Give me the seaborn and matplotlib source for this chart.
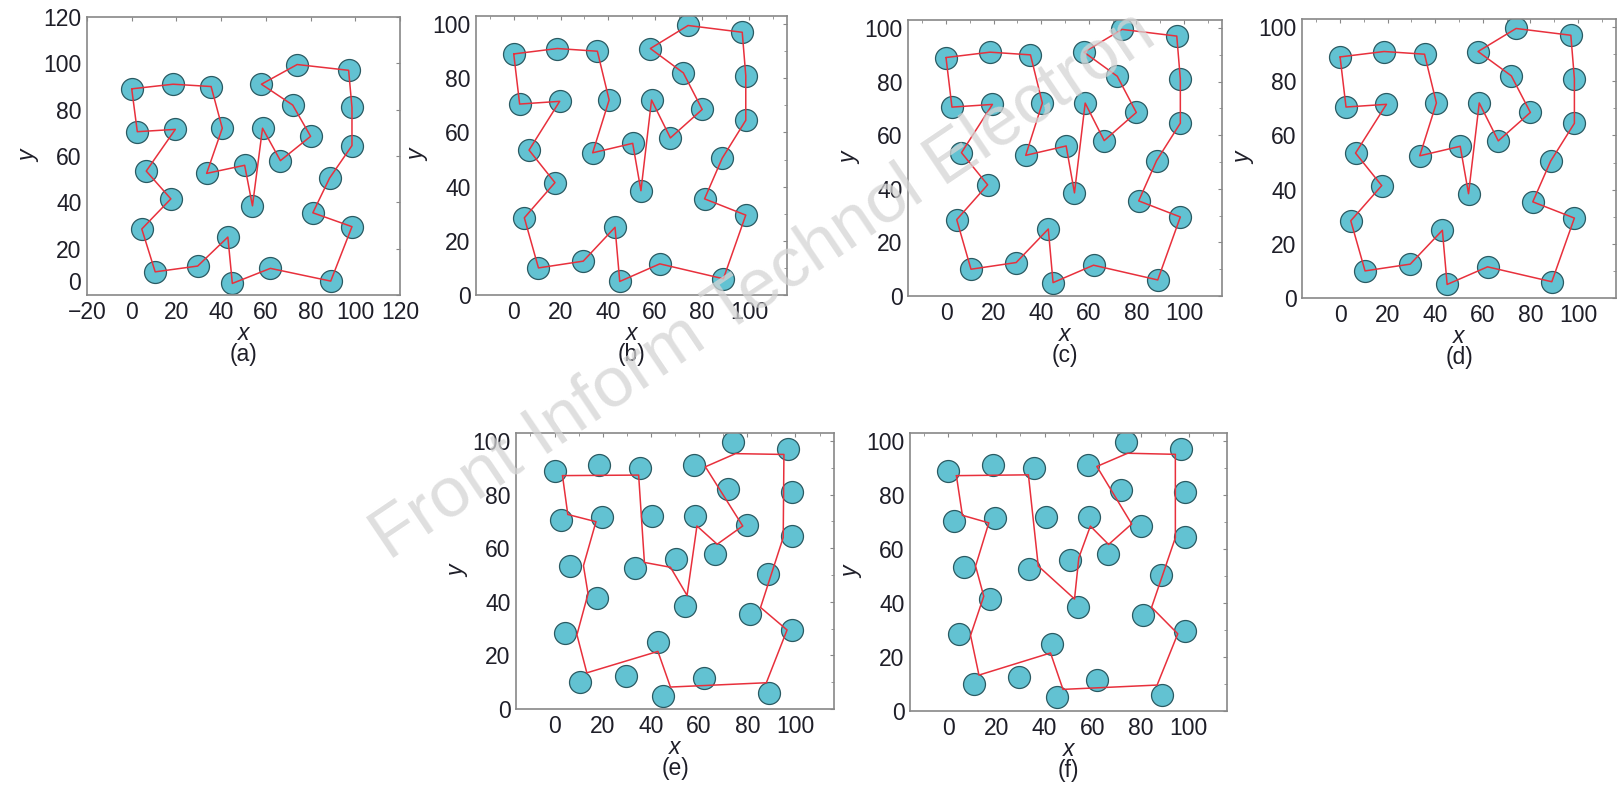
import numpy as np
import pandas as pd
import seaborn as sns
import matplotlib.pyplot as plt
from matplotlib.ticker import MultipleLocator, FixedFormatter

# ── City coordinates ─────────────────────────────────────────────────
CITY_X = [0, 18.5, 35.5, 2.5, 19.5, 40.5, 6.5, 17.5, 33.5, 50.5,
          54, 58.5, 58, 74, 97, 72, 98.5, 80, 66.5, 98.5,
          88.5, 81, 98.5, 4.5, 10.5, 29.5, 43, 45, 62, 89]
CITY_Y = [89, 91, 90, 70.5, 71.5, 72, 53.5, 41.5, 52.5, 56,
          38.5, 72, 91, 99.5, 97, 82, 81, 68.5, 58, 64.5,
          50.5, 35.5, 29.5, 28.5, 10, 12.5, 25, 5, 11.5, 6]

# tour found in panels (a)-(d), 1-based city numbers
TOUR_ABCD = [1, 2, 3, 6, 9, 10, 11, 12, 19, 18, 16, 13, 14, 15, 17, 20,
             21, 22, 23, 30, 29, 28, 27, 26, 25, 24, 8, 7, 5, 4, 1]

# route vertices of panels (e) and (f)
ROUTE_E_X = [3.3, 34.9, 37.3, 48.1, 55, 59.1, 67.5, 78.1, 62.6, 75.1, 95.2, 94.9,
             85.5, 96.5, 87.9, 48.1, 42.9, 13.4, 9.3, 13.9, 12.0, 17.2, 5.5, 3.3]
ROUTE_E_Y = [87.1, 87.3, 54.7, 52.9, 42.4, 68.3, 61.5, 68.3, 90.4, 95.3, 95, 64,
             37.9, 29.5, 9.8, 8.2, 21.5, 13.5, 27.7, 43, 53.5, 69.9, 72.6, 87.1]
ROUTE_F_X = [3.3, 33.3, 37.4, 52.5, 54.3, 59.1, 66.7, 76.3, 61.8, 74.6, 94.5, 94.5,
             84.6, 95.5, 86.9, 47.7, 42.5, 12.7, 9.2, 14.7, 11.3, 16.8, 5.8, 3.3]
ROUTE_F_Y = [87.2, 87.5, 53.7, 41.5, 56.8, 68.5, 61.7, 69.3, 90.6, 95.5, 95.1, 64.2,
             38.4, 28.6, 9.6, 8.0, 21.5, 13.3, 28.0, 42.5, 53.7, 69.7, 72.5, 87.2]

PANEL_LABELS = ['(a)', '(b)', '(c)', '(d)', '(e)', '(f)']

# axes boxes in figure fractions [left, bottom, width, height]
PANEL_BOXES = [
    [0.0538, 0.6242, 0.1936, 0.3541],
    [0.2944, 0.6242, 0.1923, 0.3554],
    [0.5615, 0.6229, 0.1942, 0.3516],
    [0.8052, 0.6204, 0.1942, 0.3554],
    [0.3191, 0.0968, 0.1967, 0.3516],
    [0.5628, 0.0943, 0.1960, 0.3541],
]

CIRCLE = '#62c2d2'
EDGE = '#2a5a62'
RED = '#e8303c'
FRAME = '#888888'
TXT = '#1e1e28'
FS = 16.5

sns.set_style('white')
plt.rcParams['font.family'] = ['Liberation Sans', 'DejaVu Sans']
plt.rcParams['font.size'] = FS

cities = pd.DataFrame({'x': CITY_X, 'y': CITY_Y})
tour = cities.iloc[[i - 1 for i in TOUR_ABCD]].reset_index(drop=True)
routes = [tour, tour, tour, tour,
          pd.DataFrame({'x': ROUTE_E_X, 'y': ROUTE_E_Y}),
          pd.DataFrame({'x': ROUTE_F_X, 'y': ROUTE_F_Y})]

fig = plt.figure(figsize=(16.17, 7.85), dpi=100)

for i, (box, route, lab) in enumerate(zip(PANEL_BOXES, routes, PANEL_LABELS)):
    ax = fig.add_axes(box)
    sns.scatterplot(data=cities, x='x', y='y', ax=ax, s=250, color=CIRCLE,
                    edgecolor=EDGE, linewidth=0.9, zorder=2, legend=False)
    sns.lineplot(data=route, x='x', y='y', ax=ax, sort=False, estimator=None,
                 color=RED, lw=1.1, zorder=3)

    if i == 0:
        ax.set_xlim(-20, 120)
        ax.set_ylim(0, 120)
        yt = [0, 20, 40, 60, 80, 100, 120]
        ax.set_xticks([-20, 0, 20, 40, 60, 80, 100, 120])
        ax.set_yticks(yt)
        # the "0" on the y axis sits a little above its tick in the original
        ax.yaxis.set_major_formatter(FixedFormatter([''] + [str(v) for v in yt[1:]]))
        ax.annotate('0', xy=(0, 0), xycoords='axes fraction', xytext=(-6, 12),
                    textcoords='offset pixels', ha='right', va='center',
                    fontsize=FS, color=TXT)
    else:
        ax.set_xlim(-16, 116)
        ax.set_ylim(0, 103)
        ax.set_xticks([0, 20, 40, 60, 80, 100])
        ax.set_yticks([0, 20, 40, 60, 80, 100])
        ax.xaxis.set_minor_locator(MultipleLocator(10))
        ax.yaxis.set_minor_locator(MultipleLocator(10))

    ax.tick_params(which='both', direction='in', top=True, right=True,
                   color=FRAME, labelcolor=TXT, labelsize=FS, pad=4)
    ax.tick_params(which='major', length=3)
    ax.tick_params(which='minor', length=2)
    for sp in ax.spines.values():
        sp.set_color(FRAME)
        sp.set_linewidth(1.2)

    ax.set_xlabel('x', fontsize=FS, style='italic', color=TXT, labelpad=-1)
    ax.set_ylabel('y', fontsize=FS, style='italic', color=TXT, labelpad=2)
    ax.annotate(lab, xy=(0.5, 0), xycoords='axes fraction', xytext=(0, -43),
                textcoords='offset points', ha='center', va='center',
                fontsize=FS, color=TXT)

# journal watermark
fig.text(0.472, 0.635, 'Front Inform Technol Electron', fontsize=51,
         color='#d4d4d4', alpha=0.75, rotation=34, ha='center', va='center',
         zorder=10)

fig.savefig('out.png', dpi=100)
